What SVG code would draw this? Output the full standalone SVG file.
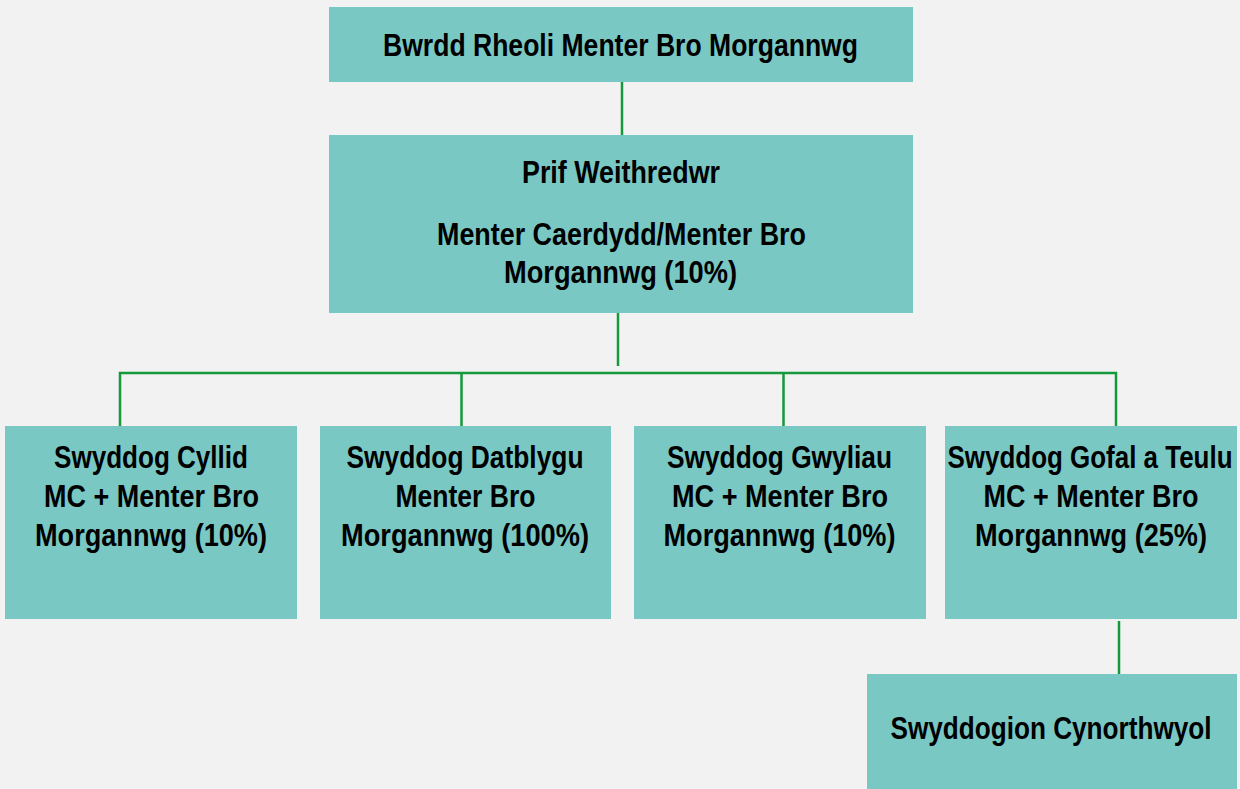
<svg xmlns="http://www.w3.org/2000/svg" width="1240" height="789" viewBox="0 0 1240 789">
<style>
.box{fill:#7ac8c3}
.t{font-family:"Liberation Sans",Arial,sans-serif;font-weight:bold;font-size:31px;fill:#000;text-anchor:middle}
.c{stroke:#15993a;stroke-width:2.5;fill:none}
</style>
<rect width="1240" height="789" fill="#f2f2f2"/>
<g id="connectors">
<line class="c" x1="622" y1="82" x2="622" y2="135"/>
<line class="c" x1="618" y1="313" x2="618" y2="366"/>
<polyline class="c" points="120,426 120,373 1116,373 1116,426"/>
<line class="c" x1="461.5" y1="373" x2="461.5" y2="426"/>
<line class="c" x1="783.5" y1="373" x2="783.5" y2="426"/>
<line class="c" x1="1119" y1="621" x2="1119" y2="674"/>
</g>
<g id="n-board">
<rect class="box" x="329" y="7" width="584" height="75"/>
<text class="t" x="620.5" y="56" textLength="475" lengthAdjust="spacingAndGlyphs">Bwrdd Rheoli Menter Bro Morgannwg</text>
</g>
<g id="n-ceo">
<rect class="box" x="329" y="135" width="584" height="178"/>
<text class="t" x="621" y="183" textLength="198" lengthAdjust="spacingAndGlyphs">Prif Weithredwr</text>
<text class="t" x="621.5" y="245" textLength="369" lengthAdjust="spacingAndGlyphs">Menter Caerdydd/Menter Bro</text>
<text class="t" x="620.5" y="283" textLength="233" lengthAdjust="spacingAndGlyphs">Morgannwg (10%)</text>
</g>
<g id="n-cyllid">
<rect class="box" x="5" y="426" width="292" height="193"/>
<text class="t" x="151" y="468" textLength="194" lengthAdjust="spacingAndGlyphs">Swyddog Cyllid</text>
<text class="t" x="151.5" y="507" textLength="215" lengthAdjust="spacingAndGlyphs">MC + Menter Bro</text>
<text class="t" x="151" y="546" textLength="232" lengthAdjust="spacingAndGlyphs">Morgannwg (10%)</text>
</g>
<g id="n-datblygu">
<rect class="box" x="320" y="426" width="291" height="193"/>
<text class="t" x="465" y="468" textLength="237" lengthAdjust="spacingAndGlyphs">Swyddog Datblygu</text>
<text class="t" x="465.5" y="507" textLength="140" lengthAdjust="spacingAndGlyphs">Menter Bro</text>
<text class="t" x="465" y="546" textLength="248" lengthAdjust="spacingAndGlyphs">Morgannwg (100%)</text>
</g>
<g id="n-gwyliau">
<rect class="box" x="634" y="426" width="292" height="193"/>
<text class="t" x="779.5" y="468" textLength="225" lengthAdjust="spacingAndGlyphs">Swyddog Gwyliau</text>
<text class="t" x="780" y="507" textLength="216" lengthAdjust="spacingAndGlyphs">MC + Menter Bro</text>
<text class="t" x="779.5" y="546" textLength="232" lengthAdjust="spacingAndGlyphs">Morgannwg (10%)</text>
</g>
<g id="n-gofal">
<rect class="box" x="945" y="426" width="292" height="193"/>
<text class="t" x="1090" y="468" textLength="285" lengthAdjust="spacingAndGlyphs">Swyddog Gofal a Teulu</text>
<text class="t" x="1091" y="507" textLength="215" lengthAdjust="spacingAndGlyphs">MC + Menter Bro</text>
<text class="t" x="1091" y="546" textLength="232" lengthAdjust="spacingAndGlyphs">Morgannwg (25%)</text>
</g>
<g id="n-cynorthwyol">
<rect class="box" x="867" y="674" width="370" height="115"/>
<text class="t" x="1051" y="739" textLength="321" lengthAdjust="spacingAndGlyphs">Swyddogion Cynorthwyol</text>
</g>
</svg>
